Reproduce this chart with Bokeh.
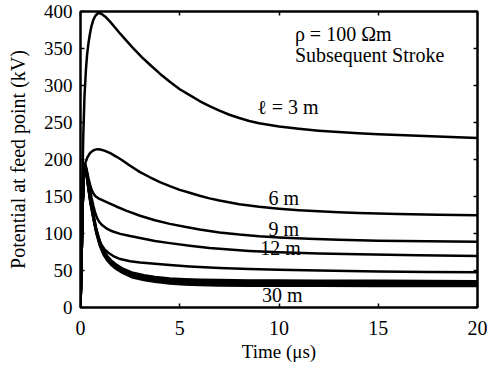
from bokeh.plotting import figure
from bokeh.models import Range1d, FixedTicker, LinearAxis
from bokeh.core.properties import value
from bokeh.embed import file_html
from bokeh.resources import INLINE

# ---- data ----
t_3m = [0, 0.03, 0.08, 0.14, 0.2, 0.27, 0.33, 0.4, 0.47, 0.55, 0.65, 0.77, 0.9, 1.05, 1.25, 1.5,
        1.75, 2.0, 2.3, 2.7, 3.1, 3.5, 4.0, 4.5, 5.0, 5.5, 6.0, 6.5, 7.0, 7.5, 8.0, 8.5, 9.0, 10,
        11, 12, 13, 14, 15, 16, 17, 18, 19, 20]
v_3m = [0, 40, 150, 232, 285, 320, 341, 357, 369, 380, 389, 395, 398, 397, 393, 386,
        378, 370, 361, 349, 338, 328, 316, 305, 295, 287, 279, 272, 266, 260.5, 256, 252, 249, 244.5,
        241.5, 239, 237, 235.5, 234, 233, 232, 231, 230, 229]

t_6m = [0, 0.05, 0.1, 0.15, 0.2, 0.25, 0.35, 0.45, 0.55, 0.7, 0.85, 1.0, 1.2, 1.5, 1.8, 2.1, 2.5,
        3.0, 3.5, 4.0, 4.5, 5.0, 5.5, 6.0, 6.5, 7.0, 8.0, 9.0, 10, 11, 12, 13, 14, 16, 18, 20]
v_6m = [0, 60, 130, 172, 190, 196, 203, 207.5, 210.5, 213, 214, 213.5, 212, 208.5, 204, 199, 191.5,
        183, 176, 169.5, 164, 159, 155, 151, 147.5, 144.5, 139.5, 136, 133.5, 131.5, 130, 128.8,
        127.8, 126.3, 125.3, 124.5]

t_9m = [0, 0.05, 0.1, 0.15, 0.2, 0.25, 0.32, 0.4, 0.48, 0.56, 0.65, 0.75, 0.9, 1.1, 1.4, 1.8, 2.3,
        3.0, 3.75, 4.5, 5.25, 6.0, 7.0, 8.0, 9.0, 10, 11.5, 13, 15, 17.5, 20]
v_9m = [0, 60, 130, 172, 190, 193, 185, 175, 166, 159, 154, 150.5, 147.5, 145, 141.5, 136.5, 131,
        124, 118, 113, 109, 105.5, 101.5, 98.5, 96.3, 94.7, 92.8, 91.5, 90.3, 89.4, 88.8]

t_12m = [0, 0.05, 0.1, 0.15, 0.2, 0.25, 0.32, 0.4, 0.48, 0.56, 0.65, 0.75, 0.85, 0.95, 1.1, 1.3,
         1.6, 2.0, 2.5, 3.0, 3.75, 4.5, 5.5, 6.5, 7.5, 8.5, 10, 12, 14, 17, 20]
v_12m = [0, 60, 130, 172, 190, 192, 183, 171, 159, 148, 137, 127, 120, 115.5, 111, 107,
         103, 99.5, 96.5, 94, 90, 87, 83.5, 80.5, 78.3, 76.5, 74.6, 73, 71.8, 70.6, 69.7]

t_15m = [0, 0.05, 0.1, 0.15, 0.2, 0.25, 0.32, 0.4, 0.48, 0.56, 0.65, 0.75, 0.9, 1.05, 1.2, 1.4,
         1.65, 2.0, 2.5, 3.0, 3.75, 4.5, 5.5, 7, 8.5, 10, 12, 15, 17.5, 20]
v_15m = [0, 60, 130, 172, 190, 191, 180, 165, 149, 135, 121, 108, 94, 85, 79, 74,
         69.5, 65.5, 62.5, 60.8, 59, 57.3, 55.5, 53.5, 52, 51, 50, 48.8, 48, 47.5]

t_long = [0, 0.05, 0.1, 0.15, 0.2, 0.25, 0.32, 0.4, 0.5, 0.65, 0.8, 0.98, 1.15, 1.35, 1.57, 1.8,
          2.1, 2.58, 3.2, 3.75, 4.5, 5.25, 6, 7, 8.5, 10, 12, 15, 17.5, 20]
v_18m = [0, 60, 130, 172, 190, 191, 179, 164, 146, 126, 106, 89, 78, 69.5, 63, 58,
         53, 47.5, 43.5, 41.2, 39.3, 38.2, 37.5, 37, 36.6, 36.4, 36.3, 36, 35.8, 35.5]
v_21m = [0, 60, 130, 172, 190, 190.5, 178.2, 163, 144.8, 124.5, 104.5, 87.5, 76.5, 68, 61.5, 56.5,
         51.5, 45.9, 41.9, 39.6, 37.6, 36.4, 35.7, 35.2, 34.8, 34.6, 34.6, 34.3, 34.1, 33.9]
v_24m = [0, 60, 130, 172, 190, 190, 177.5, 162, 143.5, 123, 103, 86, 75, 66.5, 60, 55,
         50, 44.2, 40.2, 38, 35.9, 34.7, 33.9, 33.3, 33, 32.9, 32.8, 32.6, 32.4, 32.2]
v_27m = [0, 60, 130, 172, 190, 189.5, 176.8, 161, 142.3, 121.5, 101.5, 84.5, 73.5, 65, 58.5, 53.5,
         48.5, 42.6, 38.6, 36.4, 34.2, 33, 32.1, 31.5, 31.2, 31.2, 31.1, 30.9, 30.8, 30.6]
v_30m = [0, 60, 130, 172, 190, 189, 176, 160, 141, 120, 100, 83, 72, 63.5, 57, 52,
         47, 41, 37, 34.8, 32.5, 31.2, 30.3, 29.7, 29.4, 29.4, 29.4, 29.2, 29.1, 29]

label_text = ["\u03c1 = 100 \u03a9m", "Subsequent Stroke", "\u2113 = 3 m", "6 m", "9 m", "12 m", "30 m"]
label_x = [10.8, 10.8, 8.9, 9.47, 9.47, 9.05, 9.14]
label_y = [369.6, 341.6, 270.5, 148, 106, 80.4, 17.3]

x_ticks = [0, 5, 10, 15, 20]
y_ticks = [0, 50, 100, 150, 200, 250, 300, 350, 400]

FONT = "Liberation Serif"

p = figure(width=487, height=367, output_backend="svg", toolbar_location=None,
           x_range=Range1d(0, 20), y_range=Range1d(0, 400),
           min_border_left=80, min_border_right=10, min_border_top=11, min_border_bottom=60)
p.grid.visible = False
p.outline_line_color = "black"
p.outline_line_width = 2
p.background_fill_color = "white"
p.border_fill_color = "white"

curves = [(t_3m, v_3m), (t_6m, v_6m), (t_9m, v_9m), (t_12m, v_12m), (t_15m, v_15m),
          (t_long, v_18m), (t_long, v_21m), (t_long, v_24m), (t_long, v_27m), (t_long, v_30m)]
for tt, vv in curves:
    p.line(tt, vv, line_color="black", line_width=2.5, line_join="round")

p.text(x=label_x, y=label_y, text=label_text, text_font=value(FONT), text_font_size="20px",
       text_align="left", text_baseline="alphabetic", text_color="black")

def style_axis(ax, show_labels=True):
    ax.axis_line_color = "black"
    ax.axis_line_width = 2
    ax.major_tick_in = 4
    ax.major_tick_out = 0
    ax.major_tick_line_color = "black"
    ax.major_tick_line_width = 1.5
    ax.minor_tick_line_color = None
    if show_labels:
        ax.major_label_text_color = "black"
        ax.major_label_text_font_size = "20px"
    else:
        ax.major_label_text_color = None
        ax.major_label_text_font_size = "0px"
    ax.axis_label_text_font = FONT
    ax.axis_label_text_font_style = "normal"
    ax.axis_label_text_color = "black"

xa = p.xaxis[0]
ya = p.yaxis[0]
xa.ticker = FixedTicker(ticks=x_ticks)
ya.ticker = FixedTicker(ticks=y_ticks)
style_axis(xa)
style_axis(ya)
ya.major_label_text_font = "Times"
xa.major_label_text_font = "'Liberation Serif'"
ya.major_label_text_font_size = "19px"
xa.axis_label = "Time (\u03bcs)"
ya.axis_label = "Potential at feed point (kV)"
xa.axis_label_text_font_size = "19px"
ya.axis_label_text_font_size = "20px"
xa.major_label_standoff = 13
ya.major_label_standoff = 8
xa.axis_label_standoff = 3
ya.axis_label_standoff = 12

top = LinearAxis(ticker=FixedTicker(ticks=x_ticks))
right = LinearAxis(ticker=FixedTicker(ticks=y_ticks))
style_axis(top, False)
style_axis(right, False)
top.major_label_standoff = 0
right.major_label_standoff = 0
p.add_layout(top, "above")
p.add_layout(right, "right")

open("out.html", "w").write(file_html(p, INLINE))
